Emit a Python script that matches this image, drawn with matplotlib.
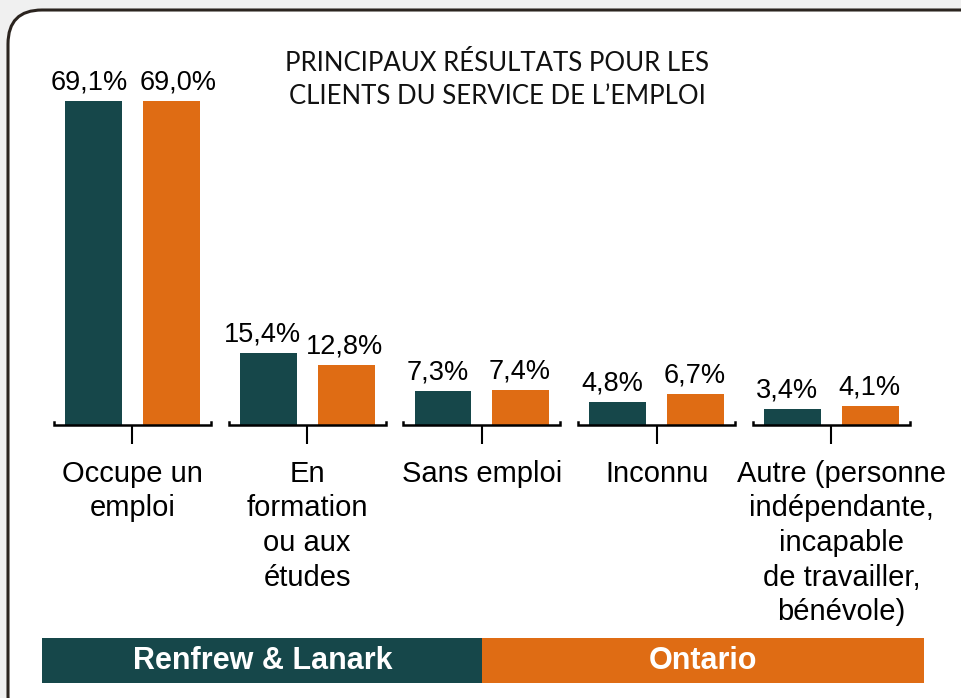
import matplotlib
matplotlib.use("Agg")
import matplotlib.pyplot as plt
import matplotlib.transforms as mtransforms
from matplotlib.patches import FancyBboxPatch, Rectangle

# data
categories = ["Occupe un\nemploi",
              "En\nformation\nou aux\nétudes",
              "Sans emploi",
              "Inconnu",
              "Autre (personne\nindépendante,\nincapable\nde travailler,\nbénévole)"]
renfrew = [69.1, 15.4, 7.3, 4.8, 3.4]
ontario = [69.0, 12.8, 7.4, 6.7, 4.1]
series_names = ["Renfrew & Lanark", "Ontario"]
title = "PRINCIPAUX RÉSULTATS POUR LES\nCLIENTS DU SERVICE DE L’EMPLOI"

TEAL = "#16474a"
ORANGE = "#df6c14"
W, H = 962, 698

plt.rcParams['font.family'] = ['Liberation Sans', 'DejaVu Sans']

fig = plt.figure(figsize=(W / 100, H / 100), dpi=100, facecolor="#f0f0f0")

# background canvas in pixel units (frame, title, legend band)
bg = fig.add_axes([0, 0, 1, 1])
bg.set_xlim(0, W)
bg.set_ylim(H, 0)
bg.axis("off")
bg.add_patch(FancyBboxPatch((8, 10), 990, 720,
                            boxstyle="round,pad=0,rounding_size=34",
                            facecolor="white", edgecolor="#2b241f", linewidth=2.2))
bg.text(497, 80, title, ha="center", va="center", fontsize=18.5,
        family=["Lato", "DejaVu Sans"], linespacing=1.4, color="#111111")

# legend band
bg.add_patch(Rectangle((42, 638), 440, 45, facecolor=TEAL, edgecolor="none"))
bg.add_patch(Rectangle((482, 638), 442, 45, facecolor=ORANGE, edgecolor="none"))
bg.text(263, 661, series_names[0], ha="center", va="center", color="white",
        fontsize=22, fontweight="bold")
bg.text(703, 661, series_names[1], ha="center", va="center", color="white",
        fontsize=22, fontweight="bold")

# main bar axes
ax = fig.add_axes([40 / W, (H - 425) / H, 900 / W, 335 / H])
ax.set_facecolor("none")
x = list(range(len(categories)))
bw = 0.326
off = 0.223
ax.bar([i - off for i in x], renfrew, bw, color=TEAL)
ax.bar([i + off for i in x], ontario, bw, color=ORANGE)
ax.set_xlim(-0.529, 4.621)
ax.set_ylim(0, 71.4)

for i in x:
    # labels sit a bit left of the bars; pushed apart where they would touch
    dx = (-3, 5) if i == 0 else (-4, -1)
    for k, (xx, v) in enumerate(((i - off, renfrew[i]), (i + off, ontario[i]))):
        ax.annotate(f"{v:.1f}%".replace(".", ","), (xx, v),
                    xytext=(dx[k], 4), textcoords="offset points",
                    ha="center", va="bottom", fontsize=19.5)
    # baseline segment with little end caps
    ax.plot([i - 0.449, i - 0.449, i + 0.449, i + 0.449], [0.6, 0, 0, 0.6],
            color="black", linewidth=1.8, clip_on=False, solid_joinstyle="miter")

for s in ax.spines.values():
    s.set_visible(False)
ax.set_yticks([])
ax.set_xticks(x)
ax.set_xticklabels(categories, fontsize=21, linespacing=1.3)
ax.tick_params(axis="x", length=14, width=1.5, color="black", pad=11)

# last label sits slightly right of its tick in the original
last = ax.get_xticklabels()[-1]
last.set_transform(last.get_transform() +
                   mtransforms.ScaledTranslation(10 / 100, 0, fig.dpi_scale_trans))

fig.savefig("out.png", dpi=100, facecolor=fig.get_facecolor())
